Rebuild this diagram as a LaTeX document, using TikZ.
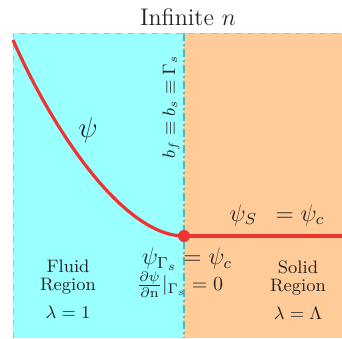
\documentclass[tikz,border=0pt]{standalone}
\usepackage{amsmath,amssymb}
\usetikzlibrary{positioning, calc}
\definecolor{fluidcyan}{HTML}{99FFFF}
\definecolor{solidtan}{HTML}{FFCC99}
\definecolor{psired}{HTML}{EE3333}
\definecolor{ifteal}{HTML}{4DB8B8}
\definecolor{edgegray}{HTML}{B8B8B8}
\definecolor{txtdark}{HTML}{222222}

\begin{document}
\begin{tikzpicture}[x=0.5pt, y=-0.5pt,
  psiline/.style={psired, line width=1.6pt},
  regionlbl/.style={font=\small, text=txtdark, align=center},
  mathlbl/.style={font=\large, text=txtdark},
]
\useasboundingbox (0,0) rectangle (342,338);

% Regions
\fill[fluidcyan] (13,33) rectangle (184,338);
\fill[solidtan] (184,33) rectangle (342,338);
\draw[edgegray, dashed, line width=0.4pt] (13,338) -- (13,33) -- (342,33);

% Interface
\draw[ifteal, line width=1pt, dash pattern=on 4pt off 1.5pt on 1pt off 1.5pt]
  (184,33) -- (184,338);

% Title
\node[font=\large, text=txtdark] (title) at (188,17) {Infinite $n$};

% Profile of psi
\coordinate (top) at (13,40);
\coordinate (far) at (342,236);
\node[circle, fill=psired, inner sep=0pt, minimum size=6pt] (junc) at (184,236) {};
\draw[psiline] (top) .. controls (55,135) and (125,236) .. (junc.center);
\draw[psiline] (junc.center) -- (far);

% Labels
\node[font=\Large, text=txtdark] (psi) at (88,130) {$\psi$};
\node[font=\small, text=txtdark, rotate=90] (bound) at (171,107)
  {$b_f \equiv b_s \equiv \Gamma_s$};
\node[mathlbl] (psis) at (277,215) {$\psi_S\ \, = \psi_c$};
\node[mathlbl, inner sep=1pt] (bcval) at (187,259) {$\psi_{\Gamma_s} = \psi_c$};
\node[font=\normalsize, text=txtdark, inner sep=1pt] (bcflux) at (180,285)
  {$\frac{\partial\psi}{\partial \mathrm{n}}|_{\Gamma_s} = 0$};

% Regions text
\node[regionlbl] (fluid) at (68,277) {Fluid\\[-2pt]Region};
\node[regionlbl] (fluidlam) at (68,312) {$\lambda = 1$};
\node[regionlbl] (solid) at (298,278) {Solid\\[-2pt]Region};
\node[regionlbl] (solidlam) at (298,313) {$\lambda = \Lambda$};

\end{tikzpicture}
\end{document}
